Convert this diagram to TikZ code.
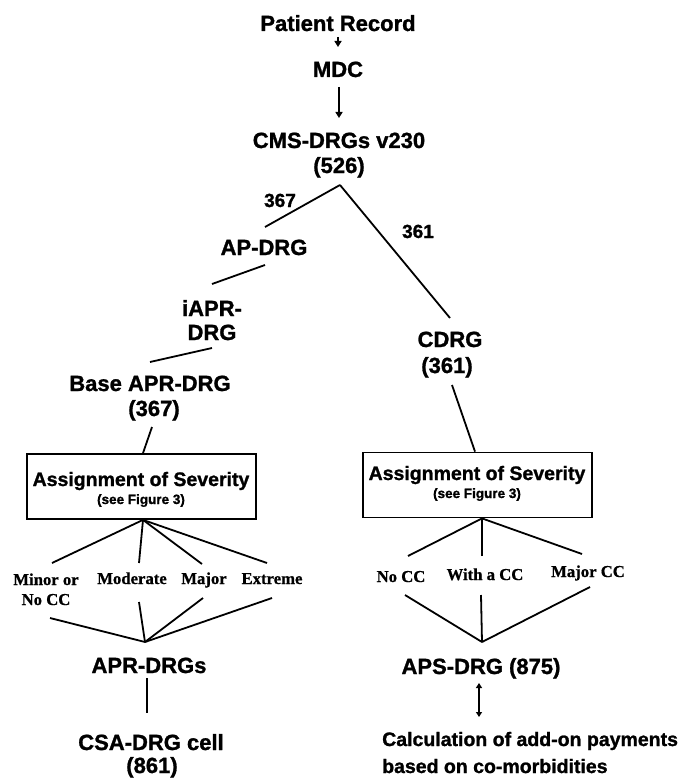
\documentclass[tikz,border=0pt]{standalone}
\usepackage{fontspec}
\setmainfont{Liberation Serif}[BoldFeatures={FakeBold=0.8}]
\newfontfamily\hvfont{Liberation Sans}[BoldFeatures={FakeBold=1.2}]
\usetikzlibrary{arrows.meta}
\begin{document}
\begin{tikzpicture}[x=1pt,y=-1pt,
  txt/.style={inner sep=0pt,anchor=base},
  bigtxt/.style={txt,font=\hvfont\bfseries\fontsize{22}{26}\selectfont},
  midtxt/.style={txt,font=\hvfont\bfseries\fontsize{19.5}{23}\selectfont},
  numtxt/.style={txt,font=\hvfont\bfseries\fontsize{19}{22}\selectfont},
  notetxt/.style={txt,font=\hvfont\bfseries\fontsize{13.5}{16}\selectfont},
  sevtxt/.style={txt,font=\bfseries\fontsize{16.7}{20}\selectfont},
  sevbox/.style={draw,line width=1.8pt,minimum width=229pt,minimum height=65pt,inner sep=0pt},
  link/.style={line width=1.8pt},
  arr/.style={line width=1.5pt,-{Triangle[length=6pt,width=7pt]}},
  dblarr/.style={line width=1.5pt,{Triangle[length=5pt,width=6pt]}-{Triangle[length=5pt,width=6pt]}}
]
\path[use as bounding box,fill=white] (0,0) rectangle (684,778);

% top of the tree
\node[bigtxt] (pr)   at (338,31)  {Patient Record};
\node[bigtxt] (mdc)  at (338,77)  {MDC};
\node[bigtxt] (cms)  at (339,148) {CMS-DRGs v230};
\node[bigtxt] (cmsn) at (339,173) {(526)};
\node[numtxt] (n367) at (280,207) {367};
\node[numtxt] (n361) at (418,238) {361};

% left branch
\node[bigtxt] (ap)    at (264,255) {AP-DRG};
\node[bigtxt] (iapr1) at (212,316) {iAPR-};
\node[bigtxt] (iapr2) at (212,340) {DRG};
\node[bigtxt] (base1) at (150,391) {Base APR-DRG};
\node[bigtxt] (base2) at (154,416) {(367)};
\node[sevbox] (sevL)  at (141.5,486.5) {};
\node[midtxt]  (sevLt) at (141,486) {Assignment of Severity};
\node[notetxt] (sevLn) at (141,504) {(see Figure 3)};
\node[sevtxt] (minor1) at (46,585)  {Minor or};
\node[sevtxt] (minor2) at (46,605)  {No CC};
\node[sevtxt] (moder)  at (132,584) {Moderate};
\node[sevtxt] (major)  at (204,584) {Major};
\node[sevtxt] (extr)   at (272,584) {Extreme};
\node[bigtxt] (aprd)  at (149,673) {APR-DRGs};
\node[bigtxt] (csa1)  at (151,750) {CSA-DRG cell};
\node[bigtxt] (csa2)  at (152,773) {(861)};

% right branch
\node[bigtxt] (cdrg)  at (450,347) {CDRG};
\node[bigtxt] (cdrgn) at (447,373) {(361)};
\node[sevbox] (sevR)  at (477.5,485) {};
\node[midtxt]  (sevRt) at (477,480) {Assignment of Severity};
\node[notetxt] (sevRn) at (477,498) {(see Figure 3)};
\node[sevtxt] (nocc)    at (401,582) {No CC};
\node[sevtxt] (withcc)  at (485,580) {With a CC};
\node[sevtxt] (majorcc) at (588,577) {Major CC};
\node[bigtxt] (aps) at (481,674) {APS-DRG (875)};
\node[midtxt,anchor=base west] (calc1) at (382,746) {Calculation of add-on payments};
\node[midtxt,anchor=base west] (calc2) at (382,773) {based on co-morbidities};

% arrows at the top
\draw[arr] ([shift={(0,6)}]pr.base) -- ([shift={(0,-30)}]mdc.base);
\draw[arr] ([shift={(1,10)}]mdc.base) -- ([shift={(0,-30)}]cms.base);

% split into the two groupers
\draw[link] ([shift={(1,12)}]cmsn.base) -- ([shift={(1,-28)}]ap.base);
\draw[link] ([shift={(1,12)}]cmsn.base) -- ([shift={(0,-29)}]cdrg.base);

% left chain
\draw[link] ([shift={(1,10)}]ap.base) -- ([shift={(0,-32)}]iapr1.base);
\draw[link] ([shift={(0,8)}]iapr2.base) -- ([shift={(0,-29)}]base1.base);
\draw[link] ([shift={(-2,11)}]base2.base) -- ([xshift=1.5pt]sevL.north);
\draw[link] ([shift={(6,-22)}]minor1.base) -- ([xshift=1.5pt]sevL.south);
\draw[link] ([shift={(7,-21)}]moder.base) -- ([xshift=1.5pt]sevL.south);
\draw[link] ([shift={(-2,-20)}]major.base) -- ([xshift=1.5pt]sevL.south);
\draw[link] ([shift={(-5,-21)}]extr.base) -- ([xshift=1.5pt]sevL.south);
\draw[link] ([shift={(4,13)}]minor2.base) -- ([shift={(-4,-31)}]aprd.base);
\draw[link] ([shift={(7,18)}]moder.base) -- ([shift={(-4,-31)}]aprd.base);
\draw[link] ([shift={(-1,14)}]major.base) -- ([shift={(-4,-31)}]aprd.base);
\draw[link] ([shift={(0,14)}]extr.base) -- ([shift={(-4,-31)}]aprd.base);
\draw[link] ([shift={(-2,5)}]aprd.base) -- ([shift={(-4,-37)}]csa1.base);

% right chain
\draw[link] ([shift={(5,12)}]cdrgn.base) -- ([xshift=-2.5pt]sevR.north);
\draw[link] ([shift={(7,-26)}]nocc.base) -- ([xshift=4.5pt]sevR.south);
\draw[link] ([shift={(-3,-24)}]withcc.base) -- ([xshift=4.5pt]sevR.south);
\draw[link] ([shift={(-6,-23)}]majorcc.base) -- ([xshift=4.5pt]sevR.south);
\draw[link] ([shift={(4,13)}]nocc.base) -- ([shift={(1,-32)}]aps.base);
\draw[link] ([shift={(-4,15)}]withcc.base) -- ([shift={(1,-32)}]aps.base);
\draw[link] ([shift={(2,10)}]majorcc.base) -- ([shift={(1,-32)}]aps.base);
\draw[dblarr] ([shift={(-2,9)}]aps.base) -- ([shift={(97,-29)}]calc1.base west);
\end{tikzpicture}
\end{document}
